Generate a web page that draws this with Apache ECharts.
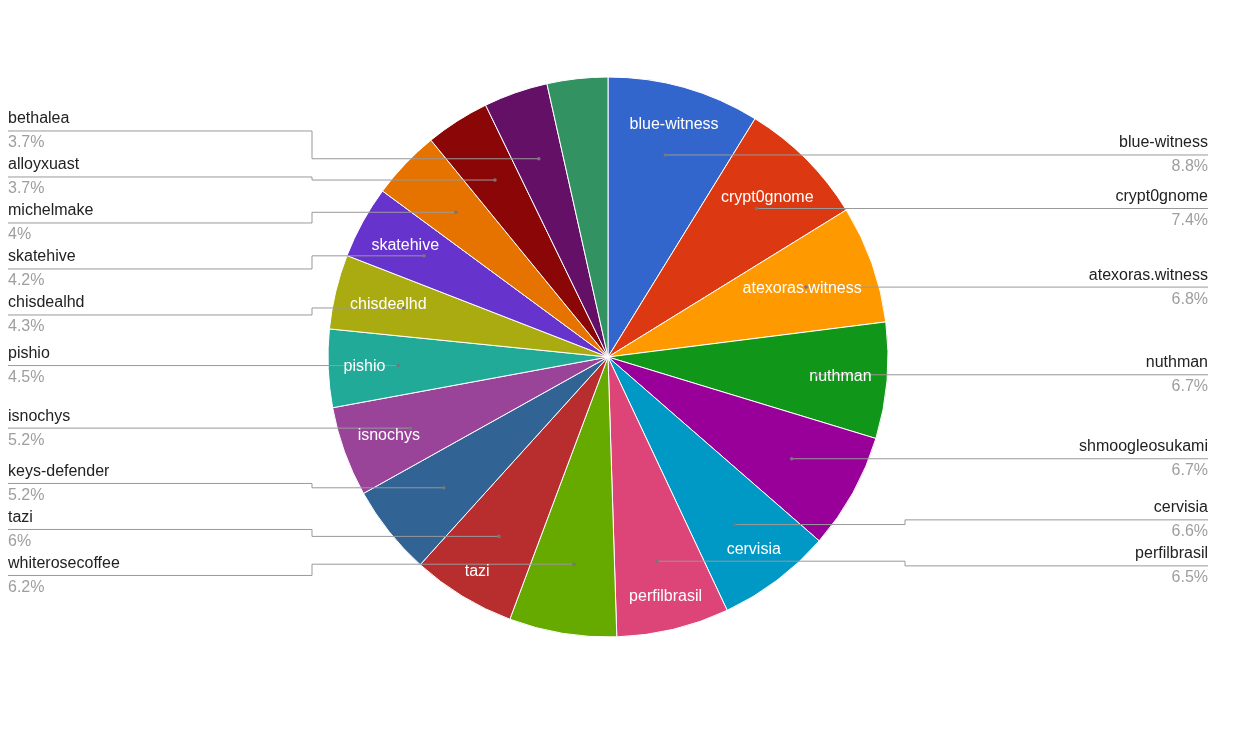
<!DOCTYPE html>
<html>
<head>
<meta charset="utf-8">
<title>Witness votes</title>
<script src="https://cdn.jsdelivr.net/npm/echarts@6/dist/echarts.min.js"></script>
<style>
  html, body { margin: 0; padding: 0; background: #fff; }
  #chart { width: 1250px; height: 750px; }
</style>
</head>
<body>
<div id="chart"></div>
<script>
// slices, clockwise from 12 o'clock
var names = ['blue-witness', 'crypt0gnome', 'atexoras.witness', 'nuthman', 'shmoogleosukami',
  'cervisia', 'perfilbrasil', 'whiterosecoffee', 'tazi', 'keys-defender', 'isnochys', 'pishio',
  'chisdealhd', 'skatehive', 'michelmake', 'alloyxuast', 'bethalea', 'other'];
var shares = [8.8, 7.4, 6.8, 6.7, 6.7, 6.6, 6.5, 6.2, 6, 5.2, 5.2, 4.5, 4.3, 4.2, 4, 3.7, 3.7, 3.5];
// names that get a label inside their slice
var insideNames = ['blue-witness', 'crypt0gnome', 'atexoras.witness', 'nuthman', 'cervisia',
  'perfilbrasil', 'tazi', 'isnochys', 'pishio', 'chisdealhd', 'skatehive'];
// the last slice has no outside label
var unlabeled = ['other'];

var palette = ['#3366cc', '#dc3912', '#ff9900', '#109618', '#990099', '#0099c6', '#dd4477',
  '#66aa00', '#b82e2e', '#316395', '#994499', '#22aa99', '#aaaa11', '#6633cc', '#e67300',
  '#8b0707', '#651067', '#329262'];

var cx = 608, cy = 357, R = 280;
var lineR = R * 0.75;   // where the leader lines start
var labelGap = 46;      // vertical room for one side label
var font = '"Liberation Sans", Arial, sans-serif';

// mid angle of each slice, clockwise from 12 o'clock
var total = shares.reduce(function (a, b) { return a + b; }, 0);
var midAngles = [];
var acc = 0;
shares.forEach(function (v) {
  midAngles.push((acc + v / 2) / total * Math.PI * 2);
  acc += v;
});

// side label heights: start at the anchor, overlapping ones are grouped
// and spread evenly round the mean of their anchors
var labelY = [];
function spreadSide(idx) {
  var groups = idx.map(function (i) {
    return { members: [i], sum: cy - lineR * Math.cos(midAngles[i]) };
  }).sort(function (a, b) { return a.sum - b.sum; });
  function top(g) { return g.sum / g.members.length - (g.members.length - 1) * labelGap / 2; }
  var merged = true;
  while (merged) {
    merged = false;
    for (var k = 1; k < groups.length; k++) {
      var p = groups[k - 1], c = groups[k];
      if (top(c) - (top(p) + (p.members.length - 1) * labelGap) < labelGap) {
        p.members = p.members.concat(c.members);
        p.sum += c.sum;
        groups.splice(k, 1);
        merged = true;
        break;
      }
    }
  }
  groups.forEach(function (g) {
    var t = top(g);
    g.members.forEach(function (i, j) { labelY[i] = t + j * labelGap; });
  });
}
var rightIdx = [], leftIdx = [];
names.forEach(function (n, i) {
  if (unlabeled.indexOf(n) > -1) return;
  (midAngles[i] < Math.PI ? rightIdx : leftIdx).push(i);
});
// keep each side ordered by anchor height
rightIdx.sort(function (a, b) { return Math.cos(midAngles[b]) - Math.cos(midAngles[a]); });
leftIdx.sort(function (a, b) { return Math.cos(midAngles[b]) - Math.cos(midAngles[a]); });
spreadSide(rightIdx);
spreadSide(leftIdx);

var chart = echarts.init(document.getElementById('chart'));

var mainData = names.map(function (n, i) {
  return { name: n, value: shares[i] };
});
var innerData = names.map(function (n, i) {
  return { name: n, value: shares[i], label: { show: insideNames.indexOf(n) > -1 } };
});
var outerData = names.map(function (n, i) {
  var show = unlabeled.indexOf(n) < 0;
  return { name: n, value: shares[i], label: { show: show }, labelLine: { show: show } };
});

// small dots where the leader lines start
var dots = [];
names.forEach(function (n, i) {
  if (labelY[i] == null) return;
  dots.push({
    type: 'circle',
    silent: true,
    z: 10,
    shape: {
      cx: cx + lineR * Math.sin(midAngles[i]),
      cy: cy - lineR * Math.cos(midAngles[i]),
      r: 1.8
    },
    style: { fill: '#777' }
  });
});

// push an inside label out along its mid angle until its far corner is 15px from the rim
function placeInside(params) {
  var a = params.labelRect.width / 2, b = params.labelRect.height / 2;
  var t = midAngles[params.dataIndex];
  var ux = Math.sin(t), uy = -Math.cos(t);
  var D = R - 15;
  var k = a * Math.abs(ux) + b * Math.abs(uy);
  var r = -k + Math.sqrt(k * k - (a * a + b * b - D * D));
  return { x: cx + r * ux, y: cy + r * uy };
}

function placeSide(params) {
  var i = params.dataIndex;
  if (labelY[i] == null) return {};
  var rect = params.labelRect;
  var t = midAngles[i];
  var start = [cx + lineR * Math.sin(t), cy - lineR * Math.cos(t)];
  var ly = labelY[i];
  var right = t < Math.PI;
  var bendX = right ? cx + R + 17 : cx - R - 16;
  var farX = right ? rect.x + rect.width : rect.x;
  return {
    y: ly,
    labelLinePoints: [start, [bendX, start[1]], [bendX, ly], [farX, ly]]
  };
}

var option = {
  animation: false,
  color: palette,
  graphic: dots,
  series: [{
    // the pie itself
    type: 'pie',
    silent: true,
    z: 2,
    center: [cx, cy],
    radius: R,
    startAngle: 90,
    label: { show: false },
    labelLine: { show: false },
    itemStyle: { borderColor: '#fff', borderWidth: 1 },
    data: mainData
  }, {
    // white names inside the slices
    type: 'pie',
    silent: true,
    z: 4,
    center: [cx, cy],
    radius: [R * 0.6, R],
    startAngle: 90,
    itemStyle: { color: 'transparent' },
    label: {
      position: 'inside',
      color: '#fff',
      fontSize: 16,
      fontFamily: font,
      formatter: '{b}'
    },
    labelLine: { show: false },
    labelLayout: placeInside,
    data: innerData
  }, {
    // names and shares at the sides, lines start inside the slices
    type: 'pie',
    silent: true,
    z: 3,
    left: 0,
    right: 34,
    top: 0,
    bottom: 0,
    center: [cx, cy],
    radius: lineR,
    startAngle: 90,
    avoidLabelOverlap: false,
    itemStyle: { color: 'transparent' },
    label: {
      position: 'outside',
      alignTo: 'edge',
      edgeDistance: 8,
      verticalAlign: 'middle',
      formatter: function (p) {
        return '{n|' + p.name + '}\n{p|' + p.value + '%}';
      },
      rich: {
        n: { fontSize: 16, color: '#222', fontFamily: font, lineHeight: 24 },
        p: { fontSize: 16, color: '#9e9e9e', fontFamily: font, lineHeight: 24 }
      }
    },
    labelLine: {
      length: 1,
      length2: 10,
      lineStyle: { color: '#999', width: 1 }
    },
    labelLayout: placeSide,
    data: outerData
  }]
};

chart.setOption(option);
</script>
</body>
</html>
